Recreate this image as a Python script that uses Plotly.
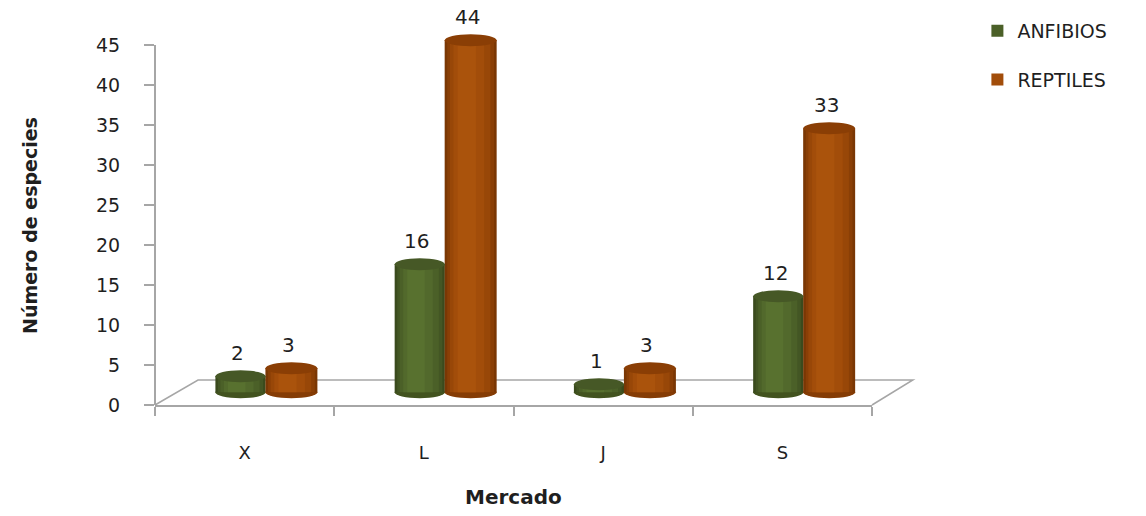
import plotly.graph_objects as go

categories = ["X", "L", "J", "S"]
anfibios = [2, 16, 1, 12]
reptiles = [3, 44, 3, 33]
series_names = ["ANFIBIOS", "REPTILES"]
y_ticks = [0, 5, 10, 15, 20, 25, 30, 35, 40, 45]

DEPTH = 1.6          # visual depth offset of the 3D floor (style only)
CAP = 0.75           # half height of cylinder caps, in axis units
FONT = "DejaVu Sans"
TXT = "#1f1f1f"
AXC = "#A6A6A6"
Y_MAX_VIEW = 48
PH = 8 * Y_MAX_VIEW   # plot height in px

styles = [
    dict(off=-0.163, w=0.28,
         bands=[(0.00, 1.00, "#3A4A1D"), (0.05, 0.95, "#435624"), (0.10, 0.88, "#4B6028"),
                (0.17, 0.76, "#52692C"), (0.25, 0.60, "#58712F")],
         legend_band=2, cap="#465826", bottom="#42531F"),
    dict(off=0.116, w=0.29,
         bands=[(0.00, 1.00, "#7A3704"), (0.05, 0.95, "#8A3F06"), (0.10, 0.88, "#984708"),
                (0.17, 0.76, "#A24D0A"), (0.25, 0.60, "#AA530C")],
         legend_band=3, cap="#8A3E05", bottom="#853C05"),
]

fig = go.Figure()
shapes = []
annotations = []
xs = list(range(len(categories)))

for name, vals, st in zip(series_names, [anfibios, reptiles], styles):
    for bi, (fl, fr, col) in enumerate(st["bands"]):
        fig.add_trace(go.Bar(
            x=xs, y=vals, base=DEPTH, name=name,
            offset=st["off"] + fl * st["w"], width=(fr - fl) * st["w"],
            marker=dict(color=col, line=dict(width=0)), cliponaxis=False,
            showlegend=(bi == st["legend_band"]), legendgroup=name,
            hovertemplate="%{y}<extra>" + name + "</extra>",
        ))
    for i, v in zip(xs, vals):
        x0 = i + st["off"]
        x1 = x0 + st["w"]
        shapes.append(dict(type="circle", xref="x", yref="y", x0=x0, x1=x1,
                           y0=DEPTH - CAP, y1=DEPTH + CAP, fillcolor=st["bottom"],
                           line=dict(width=0), layer="below"))
        shapes.append(dict(type="circle", xref="x", yref="y", x0=x0, x1=x1,
                           y0=DEPTH + v - CAP, y1=DEPTH + v + CAP, fillcolor=st["cap"],
                           line=dict(width=0), layer="above"))
        annotations.append(dict(x=(x0 + x1) / 2, y=DEPTH + v, xref="x", yref="y",
                                text=str(v), showarrow=False, yshift=23, xshift=-3,
                                font=dict(family=FONT, size=20, color=TXT)))

# 3D floor outline
fy = 25 / PH
shapes.append(dict(type="path", xref="paper", yref="paper",
                   path=f"M 0,0 L 0.06,{fy} L 1.057,{fy} L 1,0",
                   line=dict(color=AXC, width=1.5), layer="below"))
# value axis line (ends at 45)
shapes.append(dict(type="line", xref="paper", yref="y", x0=0, x1=0, y0=0, y1=45,
                   line=dict(color=AXC, width=2), layer="below"))

annotations.append(dict(text="Número de especies", xref="paper", yref="paper",
                        x=(30 - 155) / 717, y=(405 - 225) / PH, textangle=-90,
                        showarrow=False, xanchor="center", yanchor="middle",
                        font=dict(family=FONT, size=19, color=TXT, weight="bold")))
annotations.append(dict(text="Mercado", xref="paper", yref="paper",
                        x=(513 - 155) / 717, y=(405 - 497) / PH, showarrow=False,
                        xanchor="center", yanchor="middle",
                        font=dict(family=FONT, size=20, color=TXT, weight="bold")))

fig.update_layout(
    width=1146, height=516,
    margin=dict(l=155, r=274, t=405 - PH, b=111),
    paper_bgcolor="white", plot_bgcolor="white",
    barmode="overlay",
    shapes=shapes, annotations=annotations,
    showlegend=True,
    legend=dict(x=1.147, y=(405 - 12) / PH, xanchor="left", yanchor="top",
                font=dict(family=FONT, size=19, color=TXT),
                tracegroupgap=21, traceorder="grouped", itemwidth=30),
    xaxis=dict(range=[-0.5, 3.5], tickvals=xs, ticktext=categories, ticks="",
               showline=True, linecolor=AXC, linewidth=2, showgrid=False, zeroline=False,
               ticklabelstandoff=30,
               tickfont=dict(family=FONT, size=18, color=TXT),
               minor=dict(tickvals=[-0.5, 0.5, 1.5, 2.5, 3.5], ticks="outside",
                          ticklen=9, tickcolor=AXC, tickwidth=2)),
    yaxis=dict(range=[0, Y_MAX_VIEW], tickvals=y_ticks, ticks="outside", ticklen=10,
               tickcolor=AXC, tickwidth=2, showline=False,
               showgrid=False, zeroline=False, ticklabelstandoff=20,
               tickfont=dict(family=FONT, size=19, color=TXT)),
)

fig.write_html("out.html")
